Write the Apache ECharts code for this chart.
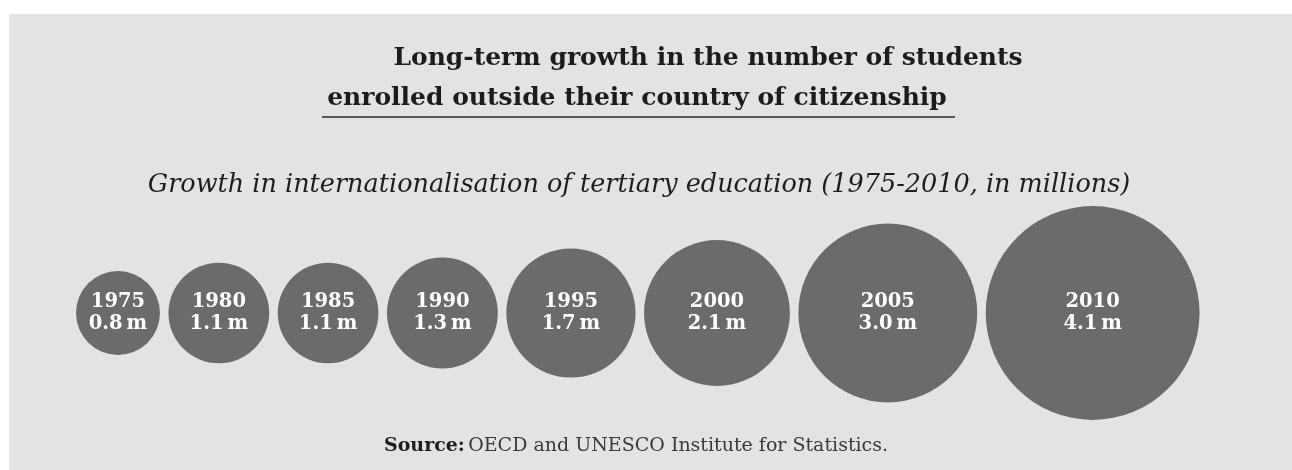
<!DOCTYPE html>
<html>
<head>
<meta charset="utf-8">
<script src="https://cdn.jsdelivr.net/npm/echarts@6/dist/echarts.min.js"></script>
<style>
  html, body { margin: 0; padding: 0; background: #fff; }
  #chart { width: 1292px; height: 470px; }
</style>
</head>
<body>
<div id="chart"></div>
<script>
// data
const years = ['1975', '1980', '1985', '1990', '1995', '2000', '2005', '2010']
const students = [0.8, 1.1, 1.1, 1.3, 1.7, 2.1, 3.0, 4.1] // millions

// circle radius grows with the value (px)
function radius(v) {
  return 47.7 * Math.pow(v, 0.572)
}

// pack the circles side by side, left to right
const gap = 8.5
const startX = 76
const centers = []
let edge = startX
students.forEach(v => {
  const r = radius(v)
  centers.push(edge + r)
  edge += 2 * r + gap
})

const serif = 'DejaVu Serif'
const chart = echarts.init(document.getElementById('chart'))

const option = {
  backgroundColor: '#fff',
  animation: false,
  grid: { left: 0, right: 0, top: 213, height: 200 },
  xAxis: { type: 'value', min: 0, max: 1292, show: false },
  yAxis: { type: 'value', min: -1, max: 1, show: false },
  graphic: [
    {
      type: 'rect',
      z: -10,
      shape: { x: 9, y: 14, width: 1283, height: 456 },
      style: { fill: '#e3e3e3' }
    },
    {
      type: 'text',
      x: 708, y: 58,
      style: {
        text: 'Long-term growth in the number of students',
        font: 'bold 25px "DejaVu Serif"',
        fill: '#1c1c1c',
        align: 'center', verticalAlign: 'middle'
      }
    },
    {
      type: 'text',
      x: 637, y: 98,
      style: {
        text: 'enrolled outside their country of citizenship',
        font: 'bold 25px "DejaVu Serif"',
        fill: '#1c1c1c',
        align: 'center', verticalAlign: 'middle'
      }
    },
    {
      type: 'line',
      shape: { x1: 322, y1: 117, x2: 955, y2: 117 },
      style: { stroke: '#2a2a2a', lineWidth: 1.5 }
    },
    {
      type: 'text',
      x: 639, y: 185,
      style: {
        text: 'Growth in internationalisation of tertiary education (1975-2010, in millions)',
        font: 'italic 25.5px "DejaVu Serif"',
        fill: '#1e1e1e',
        align: 'center', verticalAlign: 'middle'
      }
    },
    {
      type: 'text',
      x: 636, y: 446,
      style: {
        text: '{b|Source:} {r|OECD and UNESCO Institute for Statistics.}',
        align: 'center', verticalAlign: 'middle',
        rich: {
          b: { fontFamily: serif, fontWeight: 'bold', fontSize: 19, fill: '#1e1e1e' },
          r: { fontFamily: serif, fontSize: 19, fill: '#3a3a3a' }
        }
      }
    }
  ],
  series: [
    {
      type: 'scatter',
      data: students.map((v, i) => [centers[i], 0, v, years[i]]),
      symbol: 'circle',
      symbolSize: (d) => 2 * radius(d[2]),
      itemStyle: { color: '#6b6b6b', opacity: 1 },
      label: {
        show: true,
        position: 'inside',
        formatter: (p) => `{y|${p.data[3]}}\n{v|${p.data[2].toFixed(1)}\u2009m}`,
        rich: {
          y: { fontFamily: serif, fontWeight: 'bold', fontSize: 19.5, color: '#fff', lineHeight: 22 },
          v: { fontFamily: serif, fontWeight: 'bold', fontSize: 19.5, color: '#fff', lineHeight: 22 }
        }
      },
      emphasis: { disabled: true }
    }
  ]
}

chart.setOption(option)
</script>
</body>
</html>
